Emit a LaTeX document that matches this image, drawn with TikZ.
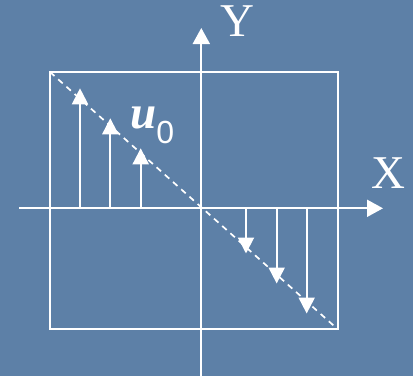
\documentclass[tikz,border=0pt]{standalone}
\usepackage{fontspec}
\setmainfont{Liberation Serif}
\setsansfont{Liberation Sans}
\usetikzlibrary{arrows.meta}
\definecolor{bgblue}{RGB}{93,128,167}
\begin{document}
\begin{tikzpicture}[x=1pt,y=-1pt,
  wline/.style={draw=white,line width=2pt},
  axis/.style={wline,-{Triangle[width=17pt,length=16pt]}},
  stem/.style={wline,-{Triangle[width=16pt,length=16pt]}},
  lbl/.style={text=white,inner sep=0pt,font=\fontsize{47}{47}\selectfont}]
\fill[bgblue] (0,0) rectangle (413,376);
\useasboundingbox (0,0) rectangle (413,376);
% frame
\coordinate (tl) at (50,72);
\coordinate (br) at (337.5,329);
\draw[wline] (tl) rectangle (br);
% axes
\coordinate (xs) at (19,208.3);
\coordinate (xe) at (383,208.3);
\coordinate (ys) at (201.3,376);
\coordinate (ye) at (201.3,28);
\draw[axis] (xs) -- (xe);
\draw[axis] (ys) -- (ye);
% diagonal
\draw[draw=white,line width=1.7pt,dash pattern=on 6pt off 5pt] (tl) -- (br);
% stems up
\foreach \n/\x/\t in {a/80/88.3,b/110.3/118.3,c/140.7/148.3}{
  \coordinate (\n0) at (\x,208.3);
  \coordinate (\n1) at (\x,\t);
  \draw[stem] (\n0) -- (\n1);
}
% stems down
\foreach \n/\x/\t in {d/246/253.5,e/276.7/283.5,f/306.7/313.5}{
  \coordinate (\n0) at (\x,208.3);
  \coordinate (\n1) at (\x,\t);
  \draw[stem] (\n0) -- (\n1);
}
% labels
\node[lbl] (ylab) at (237.5,21) {Y};
\node[lbl] (xlab) at (388.5,173) {X};
\node[lbl,anchor=base west] (ulab) at (130,128) {\bfseries\itshape u\raisebox{-15pt}{\normalfont\sffamily\fontsize{32}{32}\selectfont 0}};
\end{tikzpicture}
\end{document}
